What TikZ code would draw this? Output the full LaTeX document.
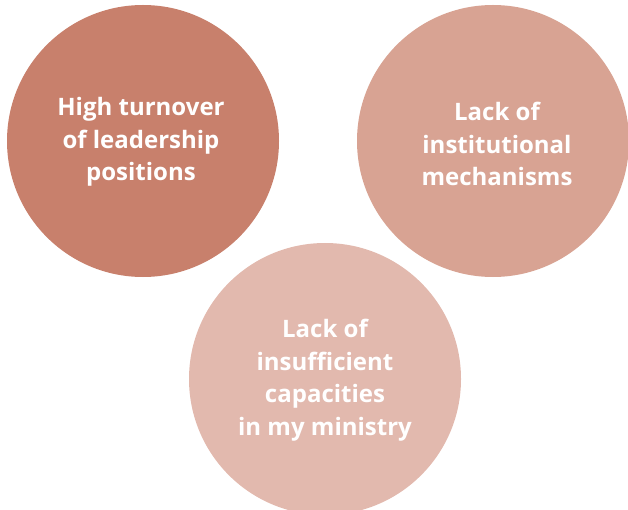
\documentclass[tikz,border=0pt]{standalone}
\usepackage{fontspec}
\setmainfont{Open Sans}[BoldFont={* Bold}]
\definecolor{cone}{HTML}{C8806C}
\definecolor{ctwo}{HTML}{D8A393}
\definecolor{cthree}{HTML}{E2B9AE}
\begin{document}
\begin{tikzpicture}[x=1pt,y=-1pt,
  bubble/.style={circle,minimum size=272pt,inner sep=0pt},
  label/.style={text=white,align=center,font=\fontsize{24}{32.5}\selectfont\bfseries}]
\useasboundingbox (0,0) rectangle (628,510);
\begin{scope}
\clip (0,0) rectangle (628,510);
\node[bubble,fill=cone] (c1) at (143,141) {};
\node[bubble,fill=ctwo] (c2) at (493,141) {};
\node[bubble,fill=cthree] (c3) at (325,379) {};
\end{scope}
\node[label] (t1) at (141,142) {High turnover\\of leadership\\positions};
\node[label] (t2) at (497,144) {Lack of\\institutional\\mechanisms};
\node[label] (t3) at (325,380) {Lack of\\insufficient\\capacities\\in my ministry};
\end{tikzpicture}
\end{document}
